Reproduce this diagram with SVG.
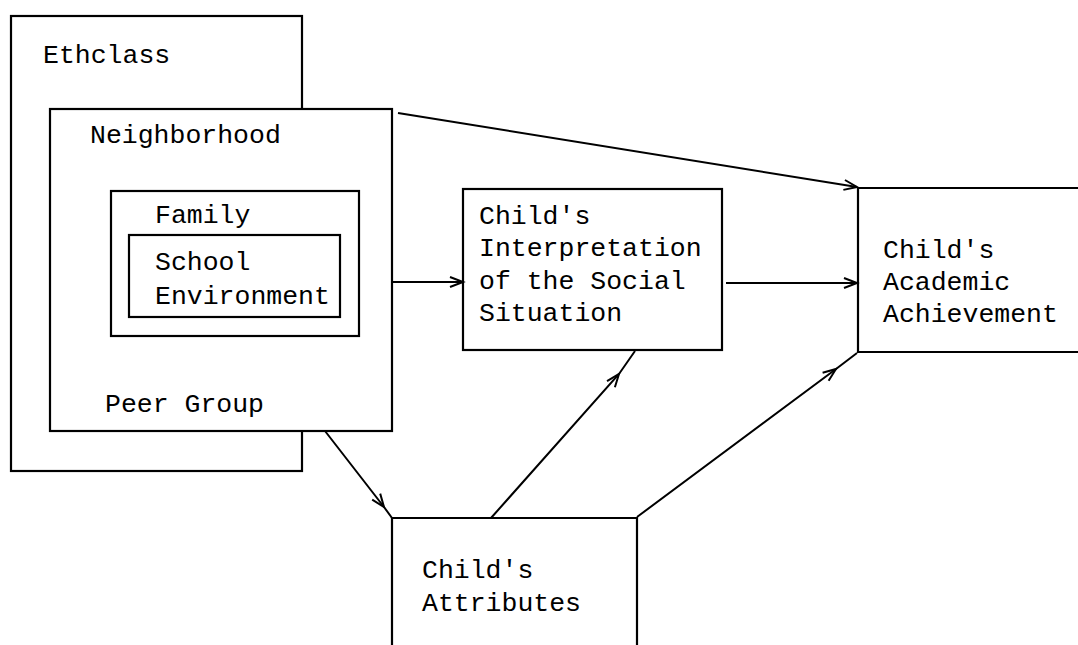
<svg xmlns="http://www.w3.org/2000/svg" width="1078" height="645" viewBox="0 0 1078 645">
<style>
.box{fill:#fff;stroke:#000;stroke-width:2.2}
.open{fill:none;stroke:#000;stroke-width:2.2}
.lbl{font-family:"Liberation Mono","DejaVu Sans Mono",monospace;font-size:26.5px;fill:#000}
.con{fill:none;stroke:#000;stroke-width:2}
</style>
<defs>
<marker id="ah" markerUnits="userSpaceOnUse" markerWidth="16" markerHeight="12" refX="14" refY="6" orient="auto" overflow="visible">
<path d="M1,1 L14,6 L1,11" fill="none" stroke="#000" stroke-width="2"/>
</marker>
</defs>
<g id="ethclass">
<rect class="box" x="11" y="16" width="291" height="455"/>
<text class="lbl" x="43" y="63">Ethclass</text>
</g>
<g id="neighborhood">
<rect class="box" x="50" y="109" width="342" height="322"/>
<text class="lbl" x="90" y="143">Neighborhood</text>
<text class="lbl" x="105" y="412">Peer Group</text>
</g>
<g id="family">
<rect class="box" x="111" y="191" width="248" height="145"/>
<text class="lbl" x="155" y="223">Family</text>
</g>
<g id="school">
<rect class="box" x="129" y="235" width="211" height="82"/>
<text class="lbl" x="155" y="270">School</text>
<text class="lbl" x="155" y="304">Environment</text>
</g>
<g id="interpretation">
<rect class="box" x="463" y="189" width="259" height="161"/>
<text class="lbl" x="479" y="224">Child's</text>
<text class="lbl" x="479" y="256">Interpretation</text>
<text class="lbl" x="479" y="289">of the Social</text>
<text class="lbl" x="479" y="321">Situation</text>
</g>
<g id="achievement">
<path class="open" d="M1080,188 H858 V352 H1080"/>
<text class="lbl" x="883" y="258">Child's</text>
<text class="lbl" x="883" y="290">Academic</text>
<text class="lbl" x="883" y="322">Achievement</text>
</g>
<g id="attributes">
<path class="open" d="M392,647 V518 H637 V647"/>
<text class="lbl" x="422" y="578">Child's</text>
<text class="lbl" x="422" y="611">Attributes</text>
</g>
<g id="connectors">
<path class="con" d="M398,113 L857,187" marker-end="url(#ah)"/>
<path class="con" d="M392,282 L463,282" marker-end="url(#ah)"/>
<path class="con" d="M726,283 L857,283" marker-end="url(#ah)"/>
<path class="con" d="M325,431 L384,507 L392,518" marker-mid="url(#ah)"/>
<path class="con" d="M491,518 L619,374 L635,351" marker-mid="url(#ah)"/>
<path class="con" d="M637,517 L836,369 L857,353" marker-mid="url(#ah)"/>
</g>
</svg>
